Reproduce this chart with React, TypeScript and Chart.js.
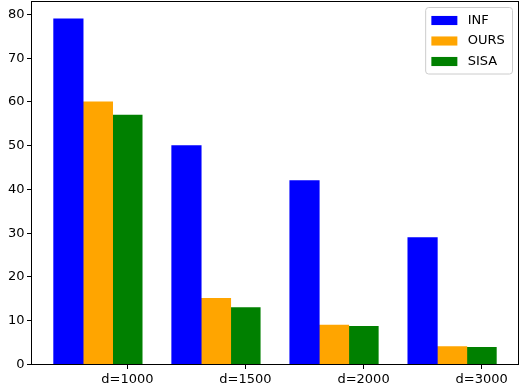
import React, { useEffect, useRef } from 'react';
import { Chart, registerables } from 'chart.js';

Chart.register(...registerables);

const categories = ['d=1000', 'd=1500', 'd=2000', 'd=3000'];
const seriesNames = ['INF', 'OURS', 'SISA'];
const infValues = [79, 50, 42, 29];
const oursValues = [60, 15.1, 9, 4.1];
const sisaValues = [57, 13.0, 8.7, 3.9];
const yTicks = [0, 10, 20, 30, 40, 50, 60, 70, 80];
const seriesColors = ['#0000ff', '#ffa500', '#008000'];

const FONT_FAMILY = '"DejaVu Sans", sans-serif';
const FS = 13;

const framePlugin = {
  id: 'mplFrameLegend',
  afterDatasetsDraw(chart: any) {
    const { ctx, chartArea } = chart;
    ctx.save();
    ctx.strokeStyle = '#000';
    ctx.lineWidth = 1;
    ctx.strokeRect(chartArea.left, chartArea.top, chartArea.right - chartArea.left, chartArea.bottom - chartArea.top);

    // legend (matplotlib style, upper right)
    const fs = FS;
    ctx.font = `${fs}px ${FONT_FAMILY}`;
    const items = chart.data.datasets;
    const textW = Math.max(...items.map((d: any) => ctx.measureText(d.label).width));
    const borderPad = 0.4 * fs;
    const handleLen = 2 * fs;
    const handleH = 0.7 * fs;
    const handleTextPad = 0.8 * fs;
    const rowH = 20.5;
    const boxW = borderPad * 2 + handleLen + handleTextPad + textW + 3;
    const boxH = 66.5;
    const right = chartArea.right - 6;
    const top = chartArea.top + 6;
    const left = right - boxW;
    const r = 3;
    ctx.beginPath();
    ctx.moveTo(left + r, top);
    ctx.lineTo(right - r, top);
    ctx.quadraticCurveTo(right, top, right, top + r);
    ctx.lineTo(right, top + boxH - r);
    ctx.quadraticCurveTo(right, top + boxH, right - r, top + boxH);
    ctx.lineTo(left + r, top + boxH);
    ctx.quadraticCurveTo(left, top + boxH, left, top + boxH - r);
    ctx.lineTo(left, top + r);
    ctx.quadraticCurveTo(left, top, left + r, top);
    ctx.closePath();
    ctx.fillStyle = 'rgba(255,255,255,0.8)';
    ctx.fill();
    ctx.strokeStyle = '#cccccc';
    ctx.stroke();

    items.forEach((d: any, i: number) => {
      const cy = top + 13 + i * rowH;
      const hx = left + borderPad + 0.5;
      ctx.fillStyle = d.backgroundColor;
      ctx.fillRect(hx, cy - handleH / 2, handleLen, handleH);
      ctx.fillStyle = '#000';
      ctx.textBaseline = 'middle';
      ctx.textAlign = 'left';
      ctx.fillText(d.label, hx + handleLen + handleTextPad, cy);
    });
    ctx.restore();
  },
};

export default function App() {
  const ref = useRef<HTMLCanvasElement>(null);

  useEffect(() => {
    if (!ref.current) return;
    const barW = 0.25;
    const seriesValues = [infValues, oursValues, sisaValues];
    const datasets = seriesValues.map((vals, s) => ({
      label: seriesNames[s],
      data: vals.map((y, i) => ({ x: i + s * barW, y })),
      backgroundColor: seriesColors[s],
      borderWidth: 0,
      categoryPercentage: 1,
      barPercentage: 1,
    }));
    const lo = -barW / 2;
    const hi = categories.length - 1 + 2 * barW + barW / 2;
    const xPad = 0.05 * (hi - lo);
    const yMax = Math.max(...infValues, ...oursValues, ...sisaValues) * 1.05;

    const tickFont = { family: FONT_FAMILY, size: FS };

    const chart = new Chart(ref.current, {
      type: 'bar',
      data: { datasets } as any,
      plugins: [framePlugin],
      options: {
        animation: false,
        responsive: false,
        layout: { padding: { left: 0, right: 9.5, top: 1.5, bottom: 0 } },
        plugins: { legend: { display: false }, tooltip: { enabled: false } },
        scales: {
          x: {
            type: 'linear',
            stacked: true,
            offset: false,
            min: lo - xPad,
            max: hi + xPad,
            grid: { drawOnChartArea: false, drawTicks: true, tickLength: 4.5, color: '#000', offset: false },
            border: { display: false },
            ticks: {
              font: tickFont,
              color: '#000',
              padding: 3,
              autoSkip: false,
              maxRotation: 0,
              callback: (_v: any, i: number) => categories[i],
            },
            afterBuildTicks: (scale: any) => {
              scale.ticks = categories.map((_, i) => ({ value: i + 2 * barW }));
            },
            afterFit: (scale: any) => {
              scale.height = 19.5;
              scale.paddingLeft = 0;
              scale.paddingRight = 0;
            },
          } as any,
          y: {
            type: 'linear',
            min: 0,
            max: yMax,
            grid: { drawOnChartArea: false, drawTicks: true, tickLength: 4.5, color: '#000' },
            border: { display: false },
            ticks: {
              font: tickFont,
              color: '#000',
              padding: 2.5,
              callback: (v: any) => String(v),
            },
            afterBuildTicks: (scale: any) => {
              scale.ticks = yTicks.map((v) => ({ value: v }));
            },
            afterFit: (scale: any) => {
              scale.width = 31.5;
              scale.paddingTop = 0;
              scale.paddingBottom = 0;
            },
          } as any,
        },
      } as any,
    });
    return () => chart.destroy();
  }, []);

  return (
    <div style={{ position: 'absolute', left: 0, top: 0, width: 528, height: 384, background: '#fff' }}>
      <canvas ref={ref} width={528} height={384} style={{ display: 'block' }} />
    </div>
  );
}
